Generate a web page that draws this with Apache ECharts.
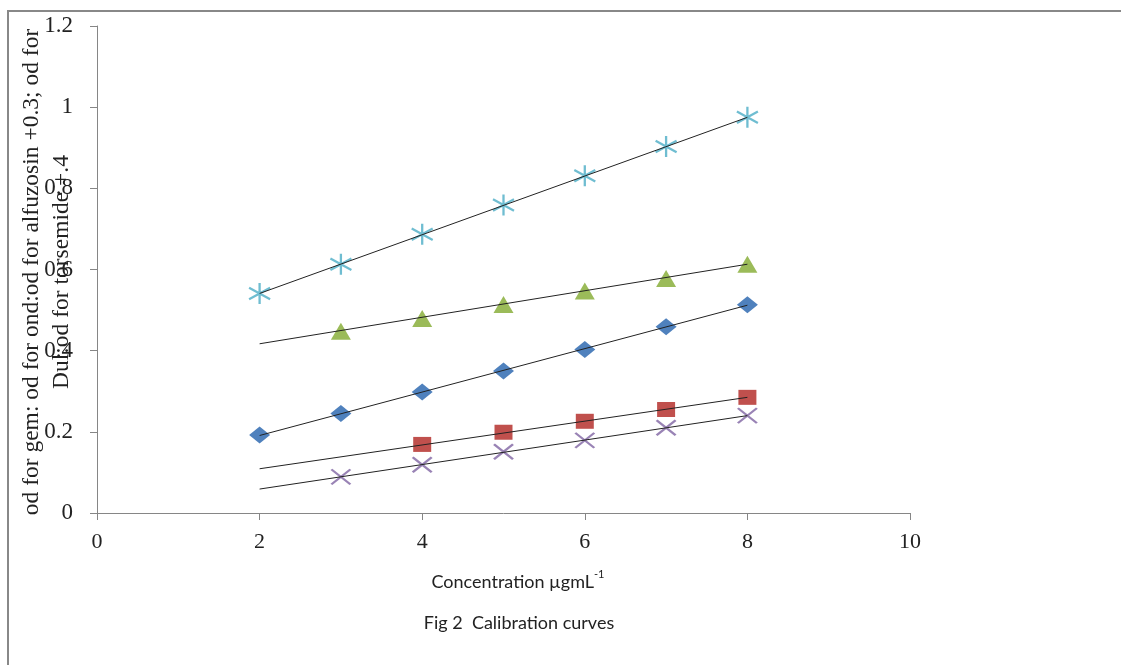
<!DOCTYPE html>
<html>
<head>
<meta charset="utf-8">
<script src="https://cdn.jsdelivr.net/npm/echarts@6/dist/echarts.min.js"></script>
<style>
  html, body { margin: 0; padding: 0; background: #fff; }
  #chart { width: 1121px; height: 665px; }
</style>
</head>
<body>
<div id="chart"></div>
<script>
// concentrations (µg/mL)
const conc = [2, 3, 4, 5, 6, 7, 8];

// od values (null = no point)
const odAsterisk = [0.541, 0.613, 0.687, 0.759, 0.831, 0.903, 0.975];
const odTriangle = [null, 0.448, 0.479, 0.514, 0.547, 0.578, 0.613];
const odDiamond  = [0.192, 0.245, 0.298, 0.350, 0.403, 0.459, 0.513];
const odSquare   = [null, null, 0.169, 0.199, 0.226, 0.255, 0.285];
const odCross    = [null, 0.089, 0.119, 0.151, 0.179, 0.210, 0.240];

// trendline ends at x = 2 and x = 8
const trendX = [2, 8];
const trendAsterisk = [0.541, 0.975];
const trendTriangle = [0.417, 0.613];
const trendDiamond  = [0.191, 0.512];
const trendSquare   = [0.109, 0.285];
const trendCross    = [0.059, 0.240];

const yTitle = [
  'od for gem: od for ond:od for alfuzosin +0.3; od for',
  'Dul:od for torsemide +.4'
];

const pair = (xs, ys) => xs.map((x, i) => [x, ys[i]]).filter(p => p[1] != null);

const chart = echarts.init(document.getElementById('chart'));

const axisGray = '#868686';
const serif = 'Liberation Serif';

function markers (vals, symbol, size, color, stroke) {
  return {
    type: 'scatter',
    data: pair(conc, vals),
    symbol: symbol,
    symbolSize: size,
    silent: true,
    z: 2,
    itemStyle: stroke
      ? { color: 'rgba(0,0,0,0)', borderColor: color, borderWidth: 2.3 }
      : { color: color, opacity: 1 },
  };
}

function trend (vals) {
  return {
    type: 'line',
    data: pair(trendX, vals),
    showSymbol: false,
    silent: true,
    z: 5,
    lineStyle: { color: '#222', width: 1 },
  };
}

chart.setOption({
  animation: false,
  grid: { left: 97, right: 211, top: 26, bottom: 152 },
  xAxis: {
    type: 'value',
    min: 0,
    max: 10,
    interval: 2,
    splitLine: { show: false },
    axisLine: { lineStyle: { color: axisGray } },
    axisTick: { show: true, length: 7, lineStyle: { color: axisGray } },
    axisLabel: { margin: 18, fontFamily: serif, fontSize: 22, color: '#222' },
  },
  yAxis: {
    type: 'value',
    min: 0,
    max: 1.2,
    interval: 0.2,
    splitLine: { show: false },
    axisLine: { show: true, lineStyle: { color: axisGray } },
    axisTick: { show: true, length: 7, lineStyle: { color: axisGray } },
    axisLabel: {
      margin: 24, fontFamily: serif, fontSize: 23, color: '#222',
      formatter: v => String(+v.toFixed(1)),
    },
  },
  graphic: [
    {
      type: 'rect',
      shape: { x: 8, y: 11, width: 1300, height: 800 },
      style: { fill: 'none', stroke: '#888', lineWidth: 2 },
      silent: true,
    },
    {
      type: 'text',
      x: 47,
      y: 272,
      rotation: Math.PI / 2,
      z: 100,
      style: {
        text: yTitle.join('\n'),
        font: '23.5px "Liberation Serif"',
        fill: '#222',
        align: 'center',
        verticalAlign: 'middle',
        lineHeight: 30,
      },
    },
    {
      type: 'text',
      x: 518,
      y: 580,
      style: {
        text: '{a|Concentration µgmL}{s|-1}',
        rich: {
          a: { fontFamily: 'Lato', fontSize: 18, fill: '#222', verticalAlign: 'bottom', lineHeight: 22 },
          s: { fontFamily: 'Lato', fontSize: 11, fill: '#222', verticalAlign: 'top', lineHeight: 22, padding: [0, 0, 10, 0] },
        },
        align: 'center',
        verticalAlign: 'middle',
      },
    },
    {
      type: 'text',
      x: 519,
      y: 623,
      style: {
        text: 'Fig 2  Calibration curves',
        font: '18px Lato',
        fill: '#222',
        align: 'center',
        verticalAlign: 'middle',
      },
    },
  ],
  series: [
    markers(odAsterisk, 'path://M10 0L10 20M0 4.5L20 15.5M0 15.5L20 4.5', 21, '#4BACC6', true),
    markers(odTriangle, 'triangle', [20, 17], '#9BBB59'),
    markers(odDiamond, 'diamond', [21, 17], '#4F81BD'),
    markers(odSquare, 'rect', [18, 15], '#C0504D'),
    markers(odCross, 'path://M0 0L20 20M0 20L20 0', [19, 15], '#8064A2', true),
    trend(trendAsterisk),
    trend(trendTriangle),
    trend(trendDiamond),
    trend(trendSquare),
    trend(trendCross),
  ],
});

window.addEventListener('resize', () => chart.resize());
</script>
</body>
</html>
